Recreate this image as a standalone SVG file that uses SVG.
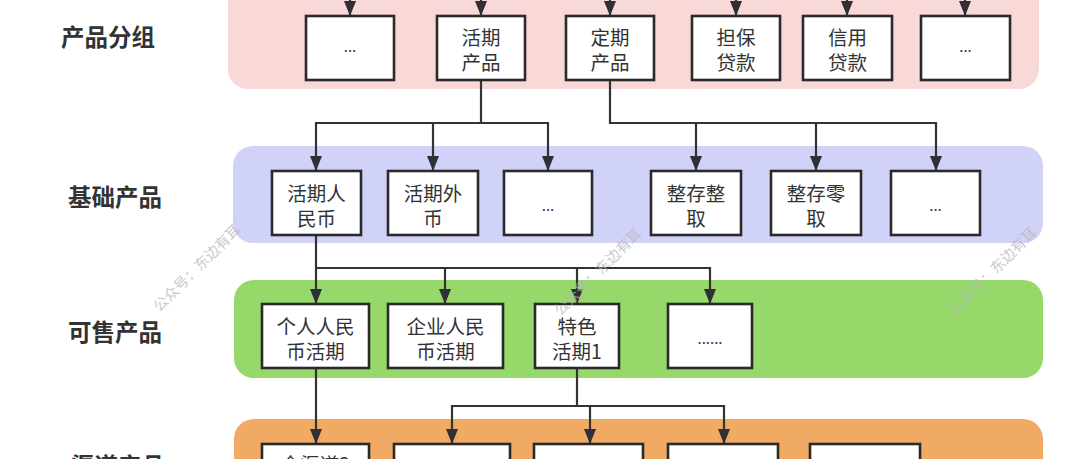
<svg xmlns="http://www.w3.org/2000/svg" width="1080" height="459" viewBox="0 0 1080 459">
<defs>
<marker id="arr" viewBox="0 0 15 12" refX="15" refY="6" markerWidth="15" markerHeight="12" markerUnits="userSpaceOnUse" orient="auto">
<path d="M0,0 L15,6 L0,12 z" fill="#2f2f36"/>
</marker>
<style>
.band{stroke:none}
.box{fill:#ffffff;stroke:#2a2a2a;stroke-width:2.6}
.t{font-family:"Noto Sans CJK SC","Noto Sans",sans-serif;font-size:19.5px;fill:#333333;text-anchor:middle}
.d{font-family:"Noto Sans CJK SC","Noto Sans",sans-serif;font-size:15px;fill:#333333;text-anchor:middle}
.lbl{font-family:"Noto Sans CJK SC","Noto Sans",sans-serif;font-size:23.5px;font-weight:bold;fill:#333333;text-anchor:middle}
.c{fill:none;stroke:#333333;stroke-width:2.2;marker-end:url(#arr)}
.wm{font-family:"Noto Sans CJK SC","Noto Sans",sans-serif;font-size:14.5px;fill:#b8b8b8;opacity:0.75;text-anchor:middle}
</style>
</defs>
<rect width="1080" height="459" fill="#ffffff"/>

<g id="bands">
<rect class="band" x="228" y="-30" width="811" height="119" rx="20" fill="#f9d8d8"/>
<rect class="band" x="233" y="146" width="810" height="97" rx="20" fill="#d0d3f7"/>
<rect class="band" x="234" y="280" width="809" height="98" rx="20" fill="#96d96a"/>
<rect class="band" x="234" y="419" width="809" height="80" rx="20" fill="#f1aa63"/>
</g>

<g id="labels">
<text class="lbl" x="108" y="46">产品分组</text>
<text class="lbl" x="115" y="206">基础产品</text>
<text class="lbl" x="115" y="341">可售产品</text>
<text class="lbl" x="118" y="475">渠道产品</text>
</g>

<g id="connectors">
<path class="c" d="M350,-5 V16"/>
<path class="c" d="M481,-5 V16"/>
<path class="c" d="M610,-5 V16"/>
<path class="c" d="M736,-5 V16"/>
<path class="c" d="M847,-5 V16"/>
<path class="c" d="M965,-5 V16"/>
<path class="c" d="M481,80 V123 H316 V171"/>
<path class="c" d="M481,123 H548 V171"/>
<path class="c" d="M433,123 V171"/>
<path class="c" d="M610,80 V123 H936 V171"/>
<path class="c" d="M696,123 V171"/>
<path class="c" d="M816,123 V171"/>
<path class="c" d="M316,235 V304"/>
<path class="c" d="M316,268 H710 V304"/>
<path class="c" d="M445,268 V304"/>
<path class="c" d="M577,268 V304"/>
<path class="c" d="M316,368 V444"/>
<path class="c" d="M577,368 V406 H452 V444"/>
<path class="c" d="M577,406 H724 V444"/>
<path class="c" d="M590,406 V444"/>
</g>

<g id="n-a1"><rect class="box" x="306" y="16" width="88" height="64"/><text class="d" x="350" y="52">...</text></g>
<g id="n-a2"><rect class="box" x="437" y="16" width="88" height="64"/><text class="t" x="481" y="45">活期<tspan x="481" dy="25">产品</tspan></text></g>
<g id="n-a3"><rect class="box" x="566" y="16" width="88" height="64"/><text class="t" x="610" y="45">定期<tspan x="610" dy="25">产品</tspan></text></g>
<g id="n-a4"><rect class="box" x="692" y="16" width="88" height="64"/><text class="t" x="736" y="45">担保<tspan x="736" dy="25">贷款</tspan></text></g>
<g id="n-a5"><rect class="box" x="803" y="16" width="89" height="64"/><text class="t" x="847.5" y="45">信用<tspan x="847.5" dy="25">贷款</tspan></text></g>
<g id="n-a6"><rect class="box" x="921" y="16" width="89" height="64"/><text class="d" x="965.5" y="52">...</text></g>

<g id="n-b1"><rect class="box" x="272" y="171" width="89" height="64"/><text class="t" x="316.5" y="201">活期人<tspan x="316.5" dy="24.5">民币</tspan></text></g>
<g id="n-b2"><rect class="box" x="388" y="171" width="90" height="64"/><text class="t" x="433" y="201">活期外<tspan x="433" dy="24.5">币</tspan></text></g>
<g id="n-b3"><rect class="box" x="504" y="171" width="88" height="64"/><text class="d" x="548" y="211">...</text></g>
<g id="n-b4"><rect class="box" x="651" y="171" width="90" height="64"/><text class="t" x="696" y="201">整存整<tspan x="696" dy="24.5">取</tspan></text></g>
<g id="n-b5"><rect class="box" x="771" y="171" width="90" height="64"/><text class="t" x="816" y="201">整存零<tspan x="816" dy="24.5">取</tspan></text></g>
<g id="n-b6"><rect class="box" x="891" y="171" width="89" height="64"/><text class="d" x="935.5" y="211">...</text></g>

<g id="n-c1"><rect class="box" x="262" y="304" width="107" height="64"/><text class="t" x="315.5" y="334">个人人民<tspan x="315.5" dy="25">币活期</tspan></text></g>
<g id="n-c2"><rect class="box" x="388" y="304" width="115" height="64"/><text class="t" x="445.5" y="334">企业人民<tspan x="445.5" dy="25">币活期</tspan></text></g>
<g id="n-c3"><rect class="box" x="535" y="304" width="84" height="64"/><text class="t" x="577" y="334">特色<tspan x="577" dy="25">活期1</tspan></text></g>
<g id="n-c4"><rect class="box" x="668" y="304" width="84" height="64"/><text class="d" x="710" y="344">......</text></g>

<g id="n-d1"><rect class="box" x="262" y="444" width="107" height="64"/><text class="t" x="315.5" y="472">全渠道2</text></g>
<g id="n-d2"><rect class="box" x="394" y="444" width="116" height="64"/></g>
<g id="n-d3"><rect class="box" x="534" y="444" width="109" height="64"/></g>
<g id="n-d4"><rect class="box" x="668" y="444" width="110" height="64"/></g>
<g id="n-d5"><rect class="box" x="810" y="444" width="110" height="64"/></g>

<g id="watermarks">
<text class="wm" transform="translate(197,268) rotate(-45)" y="5">公众号：东边有耳</text>
<text class="wm" transform="translate(598,272) rotate(-45)" y="5">公众号：东边有耳</text>
<text class="wm" transform="translate(993,271) rotate(-45)" y="5">公众号：东边有耳</text>
</g>
</svg>
